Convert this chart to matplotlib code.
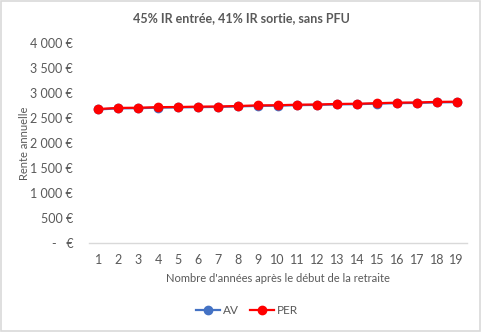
import matplotlib
matplotlib.use('Agg')
import matplotlib.pyplot as plt
from matplotlib.patches import Rectangle

plt.rcParams['font.family'] = ['Lato', 'DejaVu Sans']

years = list(range(1, 20))
av = [2672, 2692, 2697, 2707, 2712, 2717, 2722, 2732, 2742, 2747,
      2757, 2762, 2772, 2777, 2787, 2797, 2802, 2812, 2817]
per = [2680, 2702, 2705, 2717, 2720, 2727, 2730, 2740, 2752, 2755,
       2766, 2770, 2781, 2785, 2796, 2807, 2810, 2822, 2826]
title = "45% IR entrée, 41% IR sortie, sans PFU"
y_ticks = [0, 500, 1000, 1500, 2000, 2500, 3000, 3500, 4000]

grey = '#595959'

def euro(v):
  if v == 0:
    return "-   €"
  return "{:,}".format(v).replace(",", " ") + " €"

fig = plt.figure(figsize=(4.82, 3.32), dpi=100)
ax = fig.add_axes([88.5 / 482, 1 - 243 / 332, (466.6 - 88.5) / 482, 200 / 332])

ax.plot(years, av, color='#4472C4', marker='o', markersize=6, linewidth=1.6, label='AV')
ax.plot(years, per, color='#FF0000', marker='o', markersize=6, linewidth=1.6, label='PER')

ax.set_xlim(0.5, 19.5)
ax.set_ylim(0, 4000)
ax.set_xticks(years)
ax.set_yticks(y_ticks)
ax.set_yticklabels([euro(v) for v in y_ticks])
ax.tick_params(axis='both', length=0, labelsize=9, colors=grey)
ax.tick_params(axis='y', pad=11)
ax.tick_params(axis='x', pad=8)

for side in ['top', 'right', 'left']:
  ax.spines[side].set_visible(False)
ax.spines['bottom'].set_color('#D9D9D9')
ax.spines['bottom'].set_linewidth(1.0)

ax.set_ylabel("Rente annuelle", fontsize=8, color=grey, labelpad=0)
ax.set_xlabel("Nombre d'années après le début de la retraite", fontsize=8, color=grey, labelpad=5)
fig.text(0.5, 1 - 18 / 332, title, ha='center', va='center', fontsize=9, fontweight='bold', color=grey)

ax.legend(loc='center', bbox_to_anchor=(0.42, -0.34), ncol=2, frameon=False,
          fontsize=8.5, labelcolor=grey, handlelength=2.0, columnspacing=0.9, handletextpad=0.3)

fig.patches.append(Rectangle((0.002, 0.004), 0.994, 0.993, transform=fig.transFigure,
                             fill=False, edgecolor='#D9D9D9', linewidth=1.2))

fig.savefig('out.png', dpi=100)
